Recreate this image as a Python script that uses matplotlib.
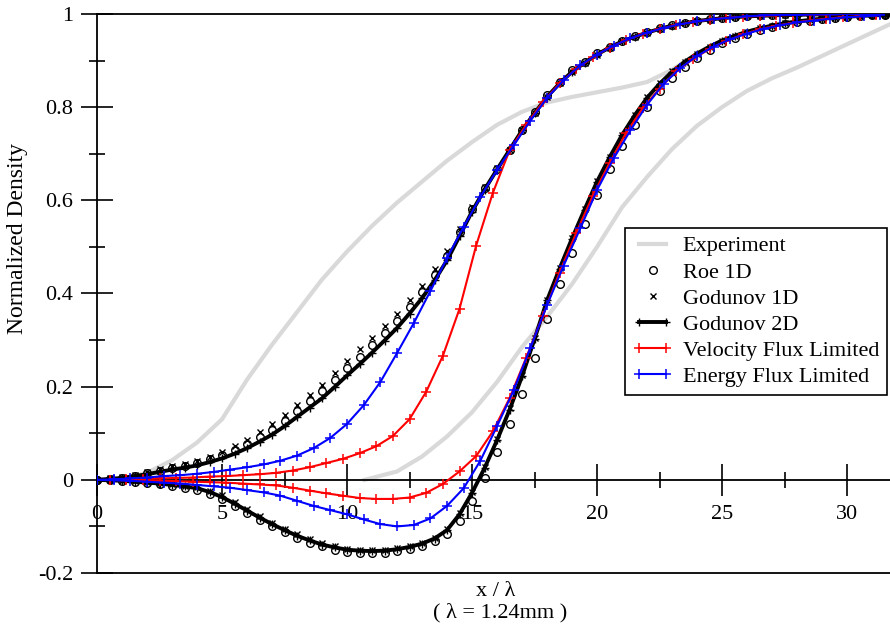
import numpy as np
import matplotlib
matplotlib.use('Agg')
import matplotlib.pyplot as plt
from matplotlib.ticker import FixedLocator, FixedFormatter
from matplotlib.legend_handler import HandlerLine2D

plt.rcParams['font.family'] = ['Liberation Serif', 'DejaVu Serif']
plt.rcParams['axes.unicode_minus'] = False

# ---- data ----
# 1D / 2D Godunov + Roe sampled every 0.5 lambda
x_half = np.arange(0, 32, 0.5)

g2_up = [0.000, 0.002, 0.004, 0.008, 0.012, 0.017, 0.022, 0.026, 0.031, 0.038,
         0.046, 0.056, 0.068, 0.082, 0.097, 0.115, 0.135, 0.155, 0.175, 0.199,
         0.224, 0.248, 0.273, 0.299, 0.326, 0.357, 0.390, 0.428, 0.471, 0.523,
         0.576, 0.623, 0.666, 0.708, 0.750, 0.787, 0.822, 0.851, 0.876, 0.895,
         0.913, 0.928, 0.941, 0.951, 0.960, 0.968, 0.975, 0.980, 0.985, 0.988,
         0.991, 0.993, 0.995, 0.996, 0.997, 0.998, 0.998, 0.999, 0.999, 1.000,
         1.000, 1.000, 1.000, 1.000]
g2_lo = [0.000, -0.001, -0.002, -0.004, -0.006, -0.008, -0.011, -0.014, -0.018, -0.026,
         -0.037, -0.051, -0.066, -0.081, -0.095, -0.108, -0.120, -0.130, -0.139, -0.145,
         -0.150, -0.152, -0.153, -0.152, -0.149, -0.144, -0.137, -0.126, -0.108, -0.074,
         -0.028, 0.025, 0.085, 0.150, 0.222, 0.302, 0.385, 0.453, 0.518, 0.580,
         0.640, 0.692, 0.740, 0.782, 0.820, 0.850, 0.876, 0.897, 0.915, 0.930,
         0.943, 0.953, 0.962, 0.969, 0.975, 0.980, 0.984, 0.987, 0.990, 0.992,
         0.994, 0.996, 0.997, 0.998]

g1_up = [0.000, 0.003, 0.006, 0.011, 0.016, 0.023, 0.029, 0.035, 0.041, 0.050,
         0.060, 0.072, 0.086, 0.102, 0.119, 0.139, 0.161, 0.183, 0.204, 0.229,
         0.255, 0.280, 0.305, 0.331, 0.357, 0.387, 0.417, 0.452, 0.491, 0.538,
         0.586, 0.629, 0.669, 0.709, 0.750, 0.787, 0.822, 0.851, 0.876, 0.895,
         0.913, 0.928, 0.941, 0.951, 0.960, 0.968, 0.975, 0.980, 0.985, 0.988,
         0.991, 0.993, 0.995, 0.996, 0.997, 0.998, 0.998, 0.999, 0.999, 1.000,
         1.000, 1.000, 1.000, 1.000]
g1_lo = [0.000, -0.001, -0.002, -0.003, -0.005, -0.007, -0.010, -0.013, -0.016, -0.023,
         -0.033, -0.047, -0.062, -0.077, -0.092, -0.105, -0.117, -0.128, -0.136, -0.143,
         -0.148, -0.150, -0.151, -0.150, -0.147, -0.142, -0.135, -0.124, -0.106, -0.072,
         -0.026, 0.028, 0.088, 0.154, 0.226, 0.305, 0.387, 0.455, 0.520, 0.582,
         0.641, 0.693, 0.741, 0.783, 0.821, 0.851, 0.877, 0.898, 0.915, 0.930,
         0.943, 0.953, 0.962, 0.969, 0.975, 0.980, 0.984, 0.987, 0.990, 0.992,
         0.994, 0.996, 0.997, 0.998]

roe_up = [0.000, 0.002, 0.005, 0.009, 0.014, 0.020, 0.025, 0.030, 0.036, 0.044,
          0.053, 0.064, 0.077, 0.092, 0.108, 0.127, 0.148, 0.169, 0.190, 0.214,
          0.240, 0.264, 0.289, 0.315, 0.342, 0.372, 0.404, 0.440, 0.481, 0.531,
          0.581, 0.626, 0.668, 0.709, 0.751, 0.790, 0.826, 0.855, 0.879, 0.898,
          0.916, 0.930, 0.943, 0.953, 0.962, 0.970, 0.976, 0.981, 0.986, 0.989,
          0.992, 0.994, 0.996, 0.997, 0.998, 0.999, 0.999, 1.000, 1.000, 1.000,
          1.000, 1.000, 1.000, 1.000]
roe_lo = [0.000, -0.001, -0.003, -0.005, -0.007, -0.010, -0.013, -0.017, -0.022, -0.030,
          -0.042, -0.056, -0.071, -0.086, -0.100, -0.113, -0.125, -0.135, -0.143, -0.150,
          -0.154, -0.156, -0.157, -0.156, -0.153, -0.149, -0.142, -0.132, -0.116, -0.088,
          -0.045, 0.005, 0.060, 0.120, 0.185, 0.262, 0.345, 0.420, 0.487, 0.550,
          0.612, 0.667, 0.716, 0.761, 0.800, 0.835, 0.863, 0.886, 0.906, 0.923,
          0.937, 0.949, 0.958, 0.966, 0.973, 0.978, 0.983, 0.986, 0.989, 0.992,
          0.994, 0.996, 0.997, 0.998]

# velocity flux limited, cells every 2/3 lambda
x_vfl = 0.5 + np.arange(47) * 2.0 / 3.0
vfl_up = [0.000, 0.001, 0.002, 0.003, 0.004, 0.005, 0.007, 0.008, 0.010, 0.012,
          0.015, 0.020, 0.027, 0.036, 0.045, 0.057, 0.072, 0.094, 0.130, 0.189,
          0.266, 0.367, 0.503, 0.616, 0.707, 0.762, 0.811, 0.851, 0.882, 0.907,
          0.928, 0.944, 0.957, 0.968, 0.976, 0.983, 0.988, 0.992, 0.994, 0.996,
          0.997, 0.998, 0.999, 0.999, 1.000, 1.000, 1.000]
vfl_lo = [0.000, -0.001, -0.001, -0.002, -0.003, -0.004, -0.005, -0.006, -0.008, -0.010,
          -0.012, -0.017, -0.023, -0.029, -0.034, -0.039, -0.041, -0.041, -0.038, -0.028,
          -0.009, 0.018, 0.051, 0.104, 0.175, 0.262, 0.352, 0.445, 0.530, 0.610,
          0.680, 0.745, 0.798, 0.840, 0.877, 0.903, 0.925, 0.942, 0.956, 0.967,
          0.975, 0.981, 0.986, 0.990, 0.993, 0.995, 0.997]

# energy flux limited
x_efl = np.arange(48) * 2.0 / 3.0
efl_up = [0.000, 0.001, 0.003, 0.005, 0.008, 0.010, 0.013, 0.017, 0.022, 0.027,
          0.033, 0.041, 0.052, 0.068, 0.090, 0.120, 0.160, 0.210, 0.272, 0.336,
          0.405, 0.476, 0.543, 0.607, 0.665, 0.718, 0.771, 0.820, 0.858, 0.890,
          0.913, 0.932, 0.948, 0.960, 0.970, 0.978, 0.984, 0.989, 0.992, 0.995,
          0.997, 0.998, 0.998, 0.999, 0.999, 1.000, 1.000, 1.000]
efl_lo = [0.000, -0.001, -0.002, -0.004, -0.006, -0.008, -0.011, -0.014, -0.017, -0.022,
          -0.027, -0.034, -0.045, -0.056, -0.065, -0.074, -0.085, -0.095, -0.100, -0.097,
          -0.083, -0.056, -0.018, 0.041, 0.115, 0.192, 0.283, 0.375, 0.460, 0.540,
          0.622, 0.690, 0.750, 0.805, 0.850, 0.884, 0.910, 0.930, 0.946, 0.958,
          0.968, 0.976, 0.982, 0.986, 0.990, 0.993, 0.995, 0.997]

# experiment (two profiles)
exp_a_x = [0.5, 1, 2, 3, 4, 5, 6, 7, 8, 9, 10, 11, 12, 13, 14, 15, 16, 17, 18, 19,
           20, 21, 22, 23, 24, 25, 26, 27, 28, 29, 30, 31, 32]
exp_a_y = [0.0, 0.002, 0.015, 0.042, 0.08, 0.13, 0.215, 0.29, 0.36, 0.43, 0.49, 0.545,
           0.595, 0.64, 0.685, 0.725, 0.762, 0.79, 0.81, 0.822, 0.832, 0.842, 0.854,
           0.88, 0.915, 0.943, 0.962, 0.975, 0.984, 0.99, 0.994, 0.997, 0.998]
exp_b_x = [10.7, 11, 12, 13, 14, 15, 16, 17, 18, 19, 20, 21, 22, 23, 24, 25, 26, 27,
           28, 29, 30, 31, 32]
exp_b_y = [0.0, 0.004, 0.018, 0.05, 0.093, 0.145, 0.21, 0.285, 0.35, 0.42, 0.5, 0.585,
           0.65, 0.71, 0.76, 0.80, 0.835, 0.862, 0.885, 0.91, 0.935, 0.96, 0.985]

xticks = [0, 5, 10, 15, 20, 25, 30]
xtick_labels = ['0', '5', '10', '15', '20', '25', '30']
yticks = [-0.2, 0, 0.2, 0.4, 0.6, 0.8, 1.0]
ytick_labels = ['-0.2', '0', '0.2', '0.4', '0.6', '0.8', '1']

# ---- figure ----
W, H = 890, 628
fig = plt.figure(figsize=(W / 100, H / 100), dpi=100)
ax = fig.add_axes([97 / W, 55 / H, 793 / W, 559 / H])
ax.set_xlim(0, 31.72)
ax.set_ylim(-0.2, 1.0)

grey = '#d9d9d9'
l_exp, = ax.plot(exp_a_x, exp_a_y, color=grey, lw=3, zorder=1, label='Experiment')
ax.plot(exp_b_x, exp_b_y, color=grey, lw=3, zorder=1)

l_g2, = ax.plot(x_half, g2_up, color='k', lw=2.8, marker='+', ms=6, mew=1,
                zorder=2, label='Godunov 2D')
ax.plot(x_half, g2_lo, color='k', lw=2.8, marker='+', ms=6, mew=1, zorder=2)

l_roe, = ax.plot(x_half, roe_up, ls='none', marker='o', ms=5.5, mfc='none',
                 mec='k', mew=1, zorder=3, label='Roe 1D')
ax.plot(x_half, roe_lo, ls='none', marker='o', ms=5.5, mfc='none', mec='k',
        mew=1, zorder=3)

l_g1, = ax.plot(x_half, g1_up, ls='none', marker='x', ms=4.5, mec='k', mew=1,
                zorder=4, label='Godunov 1D')
ax.plot(x_half, g1_lo, ls='none', marker='x', ms=4.5, mec='k', mew=1, zorder=4)

l_vfl, = ax.plot(x_vfl, vfl_up, color='#ff0000', lw=1.5, marker='+', ms=7, mew=1.1,
                 zorder=5, label='Velocity Flux Limited')
ax.plot(x_vfl, vfl_lo, color='#ff0000', lw=1.5, marker='+', ms=7, mew=1.1, zorder=5)

l_efl, = ax.plot(x_efl, efl_up, color='#0000ff', lw=1.5, marker='+', ms=7, mew=1.1,
                 zorder=6, label='Energy Flux Limited')
ax.plot(x_efl, efl_lo, color='#0000ff', lw=1.5, marker='+', ms=7, mew=1.1, zorder=6)

# axes frame: y axis at x=0, x axis at y=0, box line at top and bottom
for s in ['left', 'top', 'bottom']:
    ax.spines[s].set_linewidth(1.3)
ax.spines['right'].set_visible(False)
ax.spines['bottom'].set_position(('data', 0))
ax.plot([0, 1], [0, 0], transform=ax.transAxes, color='k', lw=1.3, clip_on=False)

ax.xaxis.set_major_locator(FixedLocator(xticks))
ax.xaxis.set_major_formatter(FixedFormatter(xtick_labels))
ax.xaxis.set_minor_locator(FixedLocator([2.5, 7.5, 12.5, 17.5, 22.5, 27.5]))
ax.yaxis.set_major_locator(FixedLocator(yticks))
ax.yaxis.set_major_formatter(FixedFormatter(ytick_labels))
ax.yaxis.set_minor_locator(FixedLocator([-0.1, 0.1, 0.3, 0.5, 0.7, 0.9]))
ax.xaxis.set_ticks_position('bottom')
ax.yaxis.set_ticks_position('left')
ax.tick_params(which='major', direction='inout', length=23, width=1.2, labelsize=16)
ax.tick_params(which='minor', direction='inout', length=11, width=1.2)
ax.tick_params(axis='x', which='major', pad=6.5)
ax.tick_params(axis='y', which='major', pad=5.5)

fig.text(18 / W, 1 - 238 / H, 'Normalized Density', rotation=90, fontsize=17,
         ha='center', va='center')
fig.text(496 / W, 1 - 591 / H, 'x / λ', fontsize=16, ha='center', va='center')
fig.text(500 / W, 1 - 613 / H, '( λ = 1.24mm )', fontsize=16, ha='center', va='center')

leg = ax.legend([l_exp, l_roe, l_g1, l_g2, l_vfl, l_efl],
                ['Experiment', 'Roe 1D', 'Godunov 1D', 'Godunov 2D',
                 'Velocity Flux Limited', 'Energy Flux Limited'],
                loc='upper right', bbox_to_anchor=(0.996, 0.617), borderaxespad=0,
                fontsize=16, numpoints=2, handlelength=1.8, handletextpad=0.45,
                labelspacing=0.25, borderpad=0.35, fancybox=False, framealpha=1,
                edgecolor='k',
                handler_map={l_roe: HandlerLine2D(numpoints=1),
                             l_g1: HandlerLine2D(numpoints=1)})
leg.get_frame().set_linewidth(1.2)

fig.savefig('out.png', dpi=100)
